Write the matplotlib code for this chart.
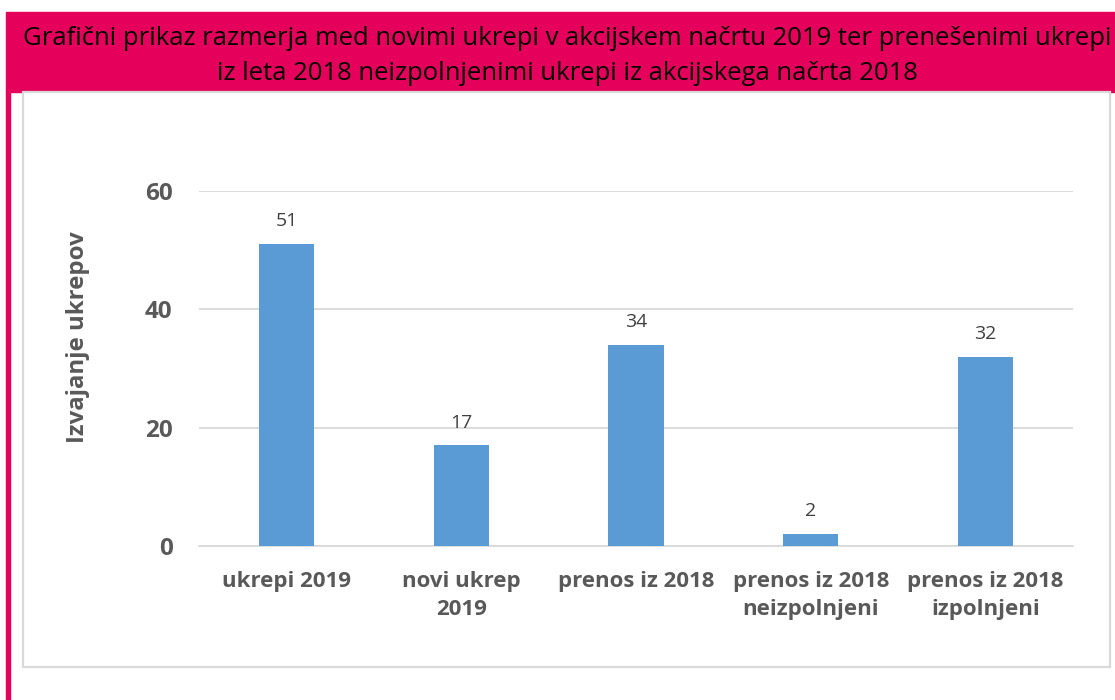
import matplotlib
matplotlib.use("Agg")
import matplotlib.pyplot as plt
from matplotlib.patches import Rectangle
import numpy as np

# podatki
kategorije = ["ukrepi 2019", "novi ukrep\n2019", "prenos iz 2018",
              "prenos iz 2018\nneizpolnjeni", "prenos iz 2018\nizpolnjeni"]
vrednosti = [51, 17, 34, 2, 32]
y_oznake = [0, 20, 40, 60]

naslov = ("Grafični prikaz razmerja med novimi ukrepi v akcijskem načrtu 2019 ter prenešenimi ukrepi\n"
          "iz leta 2018 neizpolnjenimi ukrepi iz akcijskega načrta 2018")

W, H = 1115, 700
ROZA = "#E4005B"
MODRA = "#5B9BD5"
SIVA = "#595959"

plt.rcParams['font.family'] = ['Open Sans', 'DejaVu Sans']

fig = plt.figure(figsize=(W / 100, H / 100), dpi=100)
fig.patch.set_facecolor("white")

def px(x0, y0, x1, y1):
    # pravokotnik v pikslih (izhodisce zgoraj levo)
    return (x0 / W, 1 - y1 / H), (x1 - x0) / W, (y1 - y0) / H

# roza pasica z naslovom in levi rob
xy, w, h = px(6, 12, W, 92)
fig.patches.append(Rectangle(xy, w, h, transform=fig.transFigure, color=ROZA, zorder=-2))
xy, w, h = px(6, 92, 10, H)
fig.patches.append(Rectangle(xy, w, h, transform=fig.transFigure, color=ROZA, zorder=-2))
# okvir grafa
xy, w, h = px(23, 92, 1110, 667)
fig.patches.append(Rectangle(xy, w, h, transform=fig.transFigure, facecolor="white",
                             edgecolor="#d9d9d9", lw=1.6, zorder=-1))

fig.text(567 / W, 1 - 56 / H, naslov, ha="center", va="center", fontsize=18.45,
         color="black", linespacing=1.55)

ax = fig.add_axes([199 / W, 1 - 546 / H, (1073 - 199) / W, (546 - 191) / H])
ax.set_facecolor("none")
x = np.arange(len(kategorije))
stolpci = ax.bar(x, vrednosti, width=0.315, color=MODRA, zorder=3)
ax.set_xlim(-0.5, len(kategorije) - 0.5)
ax.set_ylim(0, 60)
ax.set_yticks(y_oznake)
ax.yaxis.grid(True, color="#d9d9d9", lw=1.3, zorder=0)
ax.set_axisbelow(True)
for s in ["top", "right", "left"]:
    ax.spines[s].set_visible(False)
ax.spines["bottom"].set_color("#d9d9d9")
ax.spines["bottom"].set_linewidth(1.3)
ax.tick_params(length=0)
ax.tick_params(axis="y", pad=19, labelsize=17.5, labelcolor=SIVA)
ax.tick_params(axis="x", pad=18, labelsize=16, labelcolor=SIVA)
for t in ax.get_yticklabels():
    t.set_fontweight("bold")
ax.set_xticks(x)
ax.set_xticklabels(kategorije, fontweight="bold", linespacing=1.45)

for xi, v in zip(x, vrednosti):
    ax.annotate(str(v), (xi, v), xytext=(0, 10), textcoords="offset points",
                ha="center", va="bottom", fontsize=14, color="#404040")

# naslov osi y
fig.text(78 / W, 1 - 337 / H, "Izvajanje ukrepov", rotation=90, ha="center", va="center",
         fontsize=17.3, fontweight="bold", color=SIVA)

fig.savefig("out.png", dpi=100)
